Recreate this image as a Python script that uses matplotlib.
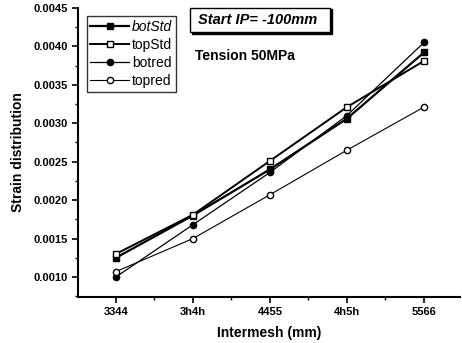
import numpy as np
import matplotlib.pyplot as plt
from matplotlib.patches import Rectangle
from matplotlib.ticker import MultipleLocator, FormatStrFormatter

plt.rcParams['font.family'] = ['Liberation Sans', 'DejaVu Sans']

# intermesh positions
positions = ["3344", "3h4h", "4455", "4h5h", "5566"]

bot_std = [0.00125, 0.00180, 0.00240, 0.00306, 0.00392]
top_std = [0.00130, 0.00181, 0.00251, 0.00321, 0.00381]
bot_red = [0.00100, 0.00168, 0.00236, 0.00310, 0.00405]
top_red = [0.00107, 0.00150, 0.00207, 0.00265, 0.00321]

xticks = np.arange(len(positions))

fig = plt.figure(figsize=(4.62, 3.43), dpi=100)
ax = fig.add_axes([0.169, 0.134, 0.827, 0.843])

ax.plot(xticks, bot_std, color='black', marker='s', markersize=5, linewidth=1.6,
        label="botStd")
ax.plot(xticks, top_std, color='black', marker='s', markersize=5, linewidth=1.4,
        markerfacecolor='white', label="topStd")
ax.plot(xticks, bot_red, color='black', marker='o', markersize=4.5, linewidth=0.9,
        label="botred")
ax.plot(xticks, top_red, color='black', marker='o', markersize=4.5, linewidth=0.8,
        markerfacecolor='white', label="topred")

ax.set_xlim(-0.49, 4.47)
ax.set_ylim(0.00074, 0.0045)
ax.set_xticks(xticks)
ax.set_xticklabels(positions)
ax.xaxis.set_minor_locator(MultipleLocator(0.5))
ax.yaxis.set_major_locator(MultipleLocator(0.0005))
ax.yaxis.set_minor_locator(MultipleLocator(0.00025))
ax.yaxis.set_major_formatter(FormatStrFormatter('%.4f'))

for s in ['top', 'right']:
    ax.spines[s].set_visible(False)
for s in ['left', 'bottom']:
    ax.spines[s].set_linewidth(1.5)
ax.tick_params(which='major', direction='out', length=4, width=1.2, labelsize=8)
ax.tick_params(which='minor', direction='out', length=2, width=1)
for lab in ax.get_xticklabels() + ax.get_yticklabels():
    lab.set_fontweight('bold')

ax.set_xlabel("Intermesh (mm)", fontsize=10, fontweight='bold', labelpad=6)
ax.set_ylabel("Strain distribution", fontsize=10, fontweight='bold', labelpad=6)

leg = ax.legend(loc='upper left', bbox_to_anchor=(0.005, 0.995), fontsize=10,
                frameon=True, fancybox=False, edgecolor='black', handlelength=2.8,
                borderpad=0.25, labelspacing=0.3, handletextpad=0.2)
leg.get_frame().set_linewidth(1.0)
leg.get_texts()[0].set_fontstyle('italic')

# "Start IP" box with a dark shadow
ax.add_patch(Rectangle((0.298, 0.908), 0.366, 0.087, transform=ax.transAxes,
                       facecolor='black', edgecolor='black', clip_on=False, zorder=4))
ax.add_patch(Rectangle((0.293, 0.916), 0.366, 0.084, transform=ax.transAxes,
                       facecolor='white', edgecolor='black', linewidth=1.0,
                       clip_on=False, zorder=5))
ax.text(0.313, 0.958, "Start IP= -100mm", transform=ax.transAxes, fontsize=10.5,
        fontstyle='italic', fontweight='bold', va='center', zorder=6)
ax.text(0.305, 0.835, "Tension 50MPa", transform=ax.transAxes, fontsize=10,
        fontweight='bold', va='center')

plt.savefig('out.png', dpi=100)
